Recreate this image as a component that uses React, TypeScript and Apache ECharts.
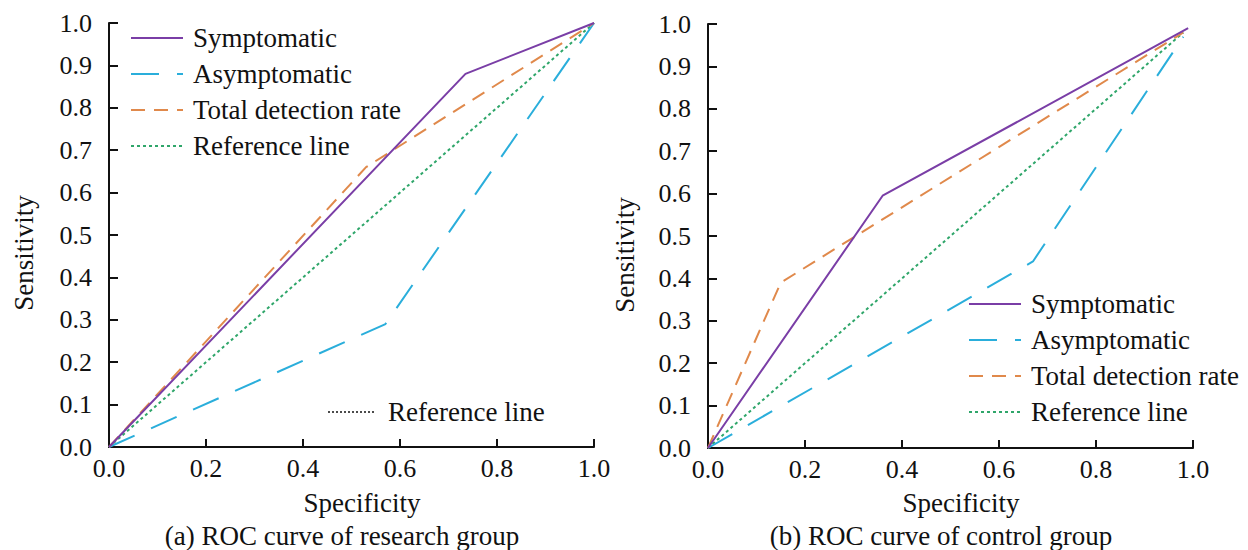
import React, { useEffect, useRef } from 'react';
import * as echarts from 'echarts';

const seriesNames = ['Symptomatic', 'Asymptomatic', 'Total detection rate', 'Reference line'];

// (a) research group: [specificity, sensitivity]
const researchSymptomatic = [[0, 0], [0.735, 0.88], [1, 1]];
const researchAsymptomatic = [[0, 0], [0.57, 0.29], [1, 1]];
const researchTotal = [[0, 0], [0.53, 0.66], [1, 1]];
const researchReference = [[0, 0], [1, 1]];

// (b) control group
const controlSymptomatic = [[0, 0], [0.36, 0.595], [0.99, 0.99]];
const controlAsymptomatic = [[0, 0], [0.67, 0.44], [0.98, 0.97]];
const controlTotal = [[0, 0], [0.15, 0.39], [0.98, 0.98]];
const controlReference = [[0, 0], [0.98, 0.98]];

const panelTitles = ['(a) ROC curve of research group', '(b) ROC curve of control group'];
const xAxisName = 'Specificity';
const yAxisName = 'Sensitivity';
const extraLegendLabel = 'Reference line';

const FONT = 'Liberation Serif';
const TEXT = '#111111';

const lineStyles: Record<string, any> = {
  'Symptomatic': { color: '#7a3ea6', width: 2, type: 'solid' },
  'Asymptomatic': { color: '#2aaedb', width: 2, type: [28, 18] },
  'Total detection rate': { color: '#e0894b', width: 2, type: [14, 9] },
  'Reference line': { color: '#2fa66a', width: 2, type: [3, 3] },
};

function makeSeries(name: string, data: number[][], idx: number) {
  const ls = lineStyles[name];
  return {
    name,
    type: 'line',
    xAxisIndex: idx,
    yAxisIndex: idx,
    data,
    symbol: 'none',
    color: ls.color,
    lineStyle: { color: ls.color, width: ls.width, type: ls.type },
    z: name === 'Reference line' ? 1 : 2,
  };
}

function axisX(idx: number) {
  return {
    type: 'value',
    gridIndex: idx,
    min: 0,
    max: 1,
    interval: 0.2,
    axisLine: { show: true, onZero: false, lineStyle: { color: '#111', width: 2 } },
    axisTick: { show: true, inside: true, length: 8, lineStyle: { color: '#111', width: 2 } },
    splitLine: { show: false },
    axisLabel: {
      margin: 8,
      fontSize: 26,
      fontFamily: FONT,
      color: TEXT,
      formatter: (v: number) => v.toFixed(1),
    },
  };
}

function axisY(idx: number) {
  return {
    type: 'value',
    gridIndex: idx,
    min: 0,
    max: 1,
    interval: 0.1,
    axisLine: { show: true, onZero: false, lineStyle: { color: '#111', width: 2 } },
    axisTick: { show: true, inside: true, length: 9, lineStyle: { color: '#111', width: 2 } },
    splitLine: { show: false },
    axisLabel: {
      margin: 17,
      fontSize: 26,
      fontFamily: FONT,
      color: TEXT,
      formatter: (v: number) => v.toFixed(1),
    },
  };
}

function legendAt(left: number, top: number) {
  return {
    orient: 'vertical',
    left,
    top,
    padding: 0,
    itemWidth: 52,
    itemHeight: 14,
    itemGap: 6,
    selectedMode: false,
    data: seriesNames,
    itemStyle: { opacity: 0 },
    textStyle: {
      fontSize: 27,
      fontFamily: FONT,
      color: TEXT,
      lineHeight: 30,
      padding: [0, 0, 0, 5],
    },
  };
}

function txt(text: string, x: number, y: number, rotation = 0) {
  return {
    type: 'text',
    x,
    y,
    rotation,
    style: {
      text,
      fill: TEXT,
      fontSize: 27,
      fontFamily: FONT,
      align: 'center',
      verticalAlign: 'middle',
    },
  };
}

export default function App() {
  const ref = useRef<HTMLDivElement>(null);

  useEffect(() => {
    document.body.style.margin = '0';
    if (!ref.current) return;
    const chart = echarts.init(ref.current, null, { renderer: 'svg' });
    const option = {
      animation: false,
      backgroundColor: '#ffffff',
      grid: [
        { left: 109, top: 23, width: 485, height: 424 },
        { left: 708, top: 24, width: 485, height: 424 },
      ],
      xAxis: [axisX(0), axisX(1)],
      yAxis: [axisY(0), axisY(1)],
      legend: [legendAt(130, 23), legendAt(968, 289)],
      series: [
        makeSeries('Reference line', researchReference, 0),
        makeSeries('Asymptomatic', researchAsymptomatic, 0),
        makeSeries('Total detection rate', researchTotal, 0),
        makeSeries('Symptomatic', researchSymptomatic, 0),
        makeSeries('Reference line', controlReference, 1),
        makeSeries('Asymptomatic', controlAsymptomatic, 1),
        makeSeries('Total detection rate', controlTotal, 1),
        makeSeries('Symptomatic', controlSymptomatic, 1),
      ],
      graphic: [
        txt(yAxisName, 24, 253, Math.PI / 2),
        txt(yAxisName, 625, 255, Math.PI / 2),
        txt(xAxisName, 362, 503),
        txt(xAxisName, 961, 503),
        txt(panelTitles[0], 342, 536),
        txt(panelTitles[1], 941, 536),
        {
          type: 'line',
          shape: { x1: 328, y1: 412, x2: 375, y2: 412 },
          style: { stroke: '#111', lineWidth: 1.5, lineDash: [2, 2] },
        },
        {
          type: 'text',
          x: 388,
          y: 412,
          style: {
            text: extraLegendLabel,
            fill: TEXT,
            fontSize: 27,
            fontFamily: FONT,
            align: 'left',
            verticalAlign: 'middle',
          },
        },
      ],
    };
    chart.setOption(option as any);
    return () => chart.dispose();
  }, []);

  return <div ref={ref} style={{ width: 1248, height: 550 }} />;
}
